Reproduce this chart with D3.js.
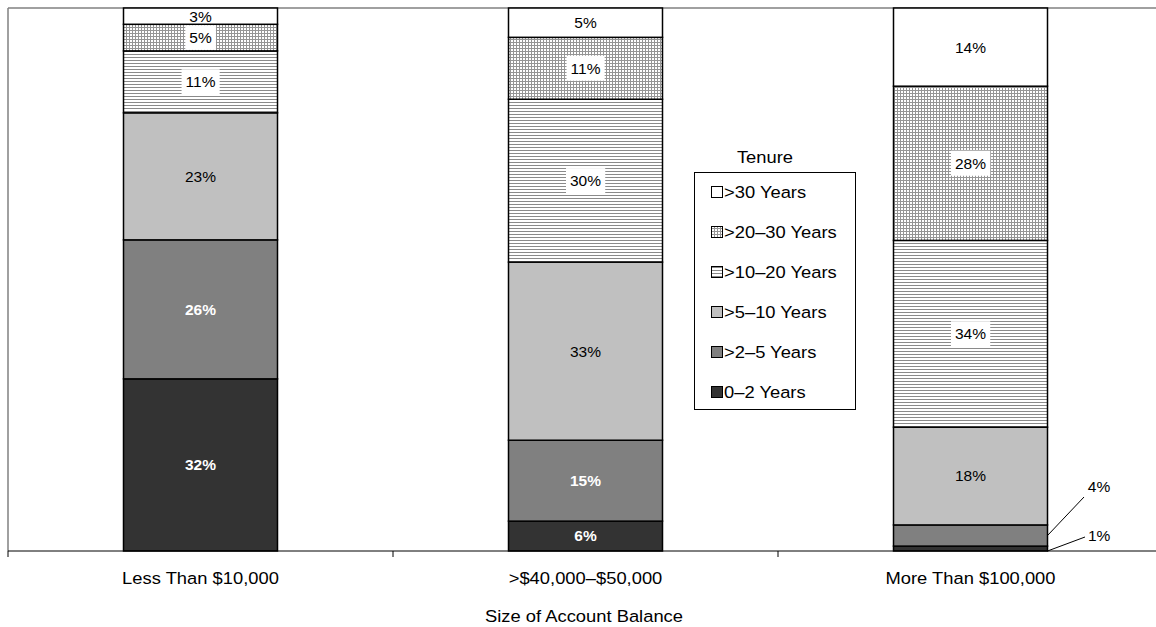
<!DOCTYPE html>
<html><head><meta charset="utf-8">
<script src="https://cdn.jsdelivr.net/npm/d3@7"></script>
<style>
html,body{margin:0;padding:0;background:#fff;}
svg{display:block;font-family:"Liberation Sans",Arial,sans-serif;}
</style></head>
<body>
<svg id="chart" width="1156" height="627"></svg>
<script>
const categories = ["Less Than $10,000", ">$40,000\u2013$50,000", "More Than $100,000"];
const seriesNames = ["0\u20132 Years", ">2\u20135 Years", ">5\u201310 Years", ">10\u201320 Years", ">20\u201330 Years", ">30 Years"];
// percent values per series (bottom to top), one entry per category
const s0_2   = [31.7, 5.5, 0.9];
const s2_5   = [25.6, 14.9, 3.9];
const s5_10  = [23.4, 32.8, 18.0];
const s10_20 = [11.4, 30.0, 34.4];
const s20_30 = [4.9, 11.4, 28.4];
const s30    = [3.0, 5.4, 14.4];
const seriesValues = [s0_2, s2_5, s5_10, s10_20, s20_30, s30];
const yDomain = [0, 100];
const xTitle = "Size of Account Balance";
const legendTitle = "Tenure";

(function(){
const svg = d3.select("#chart");
const defs = svg.append("defs");
const ph = defs.append("pattern").attr("id","hlines").attr("patternUnits","userSpaceOnUse").attr("width",6).attr("height",3);
ph.append("rect").attr("width",6).attr("height",3).attr("fill","#fff");
ph.append("rect").attr("y",0).attr("width",6).attr("height",1).attr("fill","#8a8a8a");
const pg = defs.append("pattern").attr("id","grid").attr("patternUnits","userSpaceOnUse").attr("width",3).attr("height",3);
pg.append("rect").attr("width",3).attr("height",3).attr("fill","#fff");
pg.append("rect").attr("width",3).attr("height",1).attr("fill","#959595");
pg.append("rect").attr("width",1).attr("height",3).attr("fill","#959595");

const fills = ["#333333", "#808080", "#c0c0c0", "url(#hlines)", "url(#grid)", "#ffffff"];
const patterned = [false,false,false,true,true,false];
const boldWhite = [true,true,false,false,false,false];
const SX = 1.08; // horizontal text stretch
const bigFont = 17, lblFont = 15.5;

function stretchedText(parent, xx, yy, txt, anchor, size){
  const g = parent.append("g").attr("transform",`translate(${xx},${yy}) scale(${SX},1)`);
  return g.append("text").attr("x",0).attr("y",0).attr("dy","0.35em").attr("text-anchor",anchor).attr("font-size",size).text(txt);
}

const pTop = 8, pBottom = 551, pLeft = 8, pRight = 1163;
const x = d3.scaleBand().domain(categories).range([pLeft, pRight]).paddingInner(0.6).paddingOuter(0.3);
const y = d3.scaleLinear().domain(yDomain).range([pBottom, pTop]);

svg.append("line").attr("x1",pLeft).attr("x2",1156).attr("y1",pTop).attr("y2",pTop).attr("stroke","#808080").attr("stroke-width",1.5);
svg.append("line").attr("x1",pLeft).attr("x2",pLeft).attr("y1",pTop).attr("y2",pBottom).attr("stroke","#808080").attr("stroke-width",1.5);

const data = categories.map((c,i)=>{
  const o = {cat:c};
  seriesNames.forEach((s,j)=>o[s]=seriesValues[j][i]);
  return o;
});
const stack = d3.stack().keys(seriesNames)(data);

const segG = svg.append("g");
stack.forEach((layer,j)=>{
  segG.selectAll(null).data(layer).enter().append("rect")
    .attr("x", d=>x(d.data.cat))
    .attr("width", x.bandwidth())
    .attr("y", d=>y(d[1]))
    .attr("height", d=>y(d[0])-y(d[1]))
    .attr("fill", fills[j])
    .attr("stroke","#000").attr("stroke-width",1.5);
});

const boxG = svg.append("g");
const labG = svg.append("g").attr("font-size",lblFont);
stack.forEach((layer,j)=>{
  layer.forEach((d,i)=>{
    const v = d[1]-d[0];
    if (v < 5 && i===2) return;
    const txt = Math.round(v)+"%";
    const cx = x(d.data.cat)+x.bandwidth()/2;
    const cy = (y(d[0])+y(d[1]))/2;
    const t = labG.append("text").attr("x",cx).attr("y",cy).attr("dy","0.35em")
      .attr("text-anchor","middle").text(txt)
      .attr("fill", boldWhite[j] ? "#fff":"#000")
      .attr("font-weight", boldWhite[j] ? "bold":"normal");
    if (patterned[j]) {
      const bb = t.node().getBBox();
      const segTop = y(d[1])+1, segBot = y(d[0])-1;
      const by = Math.max(segTop, bb.y-4), bh = Math.min(segBot, bb.y+bb.height+4)-by;
      boxG.append("rect").attr("x",bb.x-4).attr("y",by).attr("width",bb.width+8).attr("height",bh).attr("fill","#fff");
    }
  });
});

const c3 = categories[2];
const bx = x(c3)+x.bandwidth();
const outside = [
  {j:0, ex:1085, ey:537, tx:1088, ty:536, anchor:"start"},
  {j:1, ex:1084, ey:497, tx:1099, ty:487, anchor:"middle"}
];
outside.forEach(o=>{
  const d = stack[o.j][2];
  const sy = o.j===0 ? y(d[0]) : (y(d[0])+y(d[1]))/2;
  svg.append("line").attr("x1",bx).attr("y1",sy).attr("x2",o.ex).attr("y2",o.ey).attr("stroke","#000").attr("stroke-width",1);
  svg.append("text").attr("x",o.tx).attr("y",o.ty).attr("dy","0.35em").attr("text-anchor",o.anchor)
    .attr("font-size",lblFont).text(Math.round(d[1]-d[0])+"%");
});

const axis = svg.append("g");
axis.append("line").attr("x1",pLeft).attr("x2",1156).attr("y1",pBottom).attr("y2",pBottom).attr("stroke","#000").attr("stroke-width",1);
categories.forEach((c,i)=>{
  const tx = x(c) - x.step()*0.3;
  axis.append("line").attr("x1",tx).attr("x2",tx).attr("y1",pBottom).attr("y2",pBottom+6).attr("stroke","#000");
  stretchedText(axis, x(c)+x.bandwidth()/2, 578, c, "middle", bigFont);
});
stretchedText(svg, 584, 616, xTitle, "middle", bigFont);

const lg = svg.append("g");
stretchedText(lg, 765, 157, legendTitle, "middle", bigFont);
lg.append("rect").attr("x",694.5).attr("y",172.5).attr("width",161).attr("height",237).attr("fill","#fff").attr("stroke","#000");
const legOrder = seriesNames.map((s,j)=>j).reverse();
legOrder.forEach((j,k)=>{
  const cy = 192 + k*40;
  lg.append("rect").attr("x",711.5).attr("y",cy-5.5).attr("width",11).attr("height",11).attr("fill",fills[j]).attr("stroke","#000");
  stretchedText(lg, 724, cy, seriesNames[j], "start", bigFont);
});
})();
</script>
</body></html>
